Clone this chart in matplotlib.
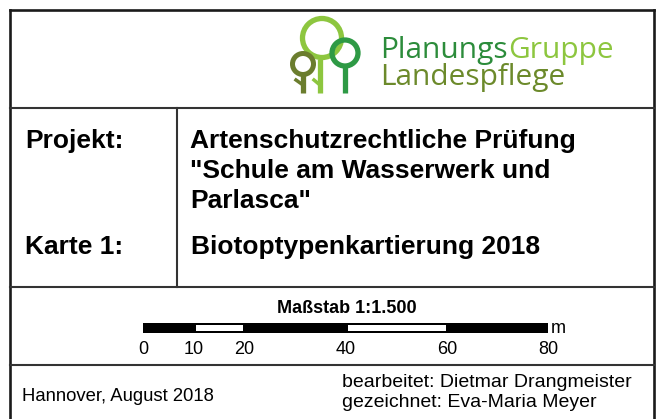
import numpy as np
import matplotlib
matplotlib.use("Agg")
import matplotlib.pyplot as plt
from matplotlib.patches import Rectangle, Circle

# ---- content ----
project_label = "Projekt:"
project_lines = ["Artenschutzrechtliche Prüfung",
                 "\"Schule am Wasserwerk und",
                 "Parlasca\""]
map_label = "Karte 1:"
map_title = "Biotoptypenkartierung 2018"
scale_title = "Maßstab 1:1.500"
scale_ticks = [0, 10, 20, 40, 60, 80]          # metres
scale_white = [(10, 20), (40, 60)]             # white segments
scale_unit = "m"
place_date = "Hannover, August 2018"
credits = ["bearbeitet: Dietmar Drangmeister", "gezeichnet: Eva-Maria Meyer"]
logo_words = ["Planungs", "Gruppe", "Landespflege"]

# ---- colours ----
c_line = "#1a1a1a"
c_lgreen = "#8dc63f"
c_green = "#2e9a45"
c_olive = "#6b7d2e"
c_text_dark = "#2c8c3b"
c_text_olive = "#6c8a2b"

W, H = 662, 419
fig = plt.figure(figsize=(W / 100, H / 100), dpi=100)
ax = fig.add_axes([0, 0, 1, 1])
ax.set_xlim(0, W)
ax.set_ylim(H, 0)
ax.axis("off")

sans = "Liberation Sans"

# frame
lw_out = 1.9
ax.plot([10, 10], [10, H + 5], color=c_line, lw=lw_out, solid_capstyle="projecting")
ax.plot([654, 654], [10, H + 5], color=c_line, lw=lw_out, solid_capstyle="projecting")
ax.plot([10, 654], [10, 10], color=c_line, lw=lw_out, solid_capstyle="projecting")
for yy in [108, 287, 365]:
    ax.plot([10, 654], [yy, yy], color="#333333", lw=1.5)
ax.plot([177, 177], [108, 287], color="#333333", lw=1.5)

# ---- logo ----
def ring(x, y, r, col, w):
    ax.add_patch(Circle((x, y), r, fill=False, ec=col, lw=w))

# trunks
ax.plot([320, 320], [59, 93], color=c_lgreen, lw=3.8, solid_capstyle="butt")
ax.plot([314, 320], [80, 85], color=c_lgreen, lw=2.5)
ax.plot([303, 303], [74, 93], color=c_olive, lw=3.8, solid_capstyle="butt")
ax.plot([296, 303], [80, 85], color=c_olive, lw=2.5)
ax.plot([345, 345], [66, 93], color=c_green, lw=3.8, solid_capstyle="butt")
ring(322, 38, 19.5, c_lgreen, 3.8)
ring(303, 64, 10.5, c_olive, 3.6)
ring(345, 53, 13, c_green, 3.8)

logo_fs = 21.5
t1 = ax.text(380, 58, logo_words[0], color=c_text_dark, fontsize=logo_fs,
             family="Open Sans", va="baseline", ha="left")
ax.annotate(logo_words[1], xy=(1, 0), xycoords=t1, color=c_lgreen,
            fontsize=logo_fs, family="Open Sans", va="bottom", ha="left")
ax.text(380, 85, logo_words[2], color=c_text_olive, fontsize=logo_fs,
        family="Open Sans", va="baseline", ha="left")

# ---- project block ----
bold = dict(family=sans, fontweight="bold", color="black", fontsize=19,
            va="baseline", ha="left")
ax.text(25, 148, project_label, **bold)
for i, s in enumerate(project_lines):
    ax.text(190, 148 + i * 30, s, **bold)
ax.text(25, 254, map_label, **bold)
ax.text(191, 254, map_title, **bold)

# ---- scale bar ----
x0, x1 = 143, 548
px_per_m = (x1 - x0) / scale_ticks[-1]
ax.text(347, 313, scale_title, family=sans, fontweight="bold",
        fontsize=13, ha="center", va="baseline")
ax.add_patch(Rectangle((x0, 323), x1 - x0, 10, fc="black", ec="none"))
for a, b in scale_white:
    ax.add_patch(Rectangle((x0 + a * px_per_m + 2, 325), (b - a) * px_per_m - 3, 6,
                           fc="white", ec="none"))
for t in scale_ticks:
    ax.text(x0 + t * px_per_m, 354, str(t), family=sans, fontsize=13,
            ha="center", va="baseline")
ax.text(551, 333, scale_unit, family=sans, fontsize=13, ha="left", va="baseline")

# ---- footer ----
ax.text(22, 401, place_date, family=sans, fontsize=13.3, ha="left", va="baseline")
for i, s in enumerate(credits):
    ax.text(342, 387 + i * 20, s, family=sans, fontsize=14, ha="left", va="baseline")

fig.savefig("out.png", dpi=100, facecolor="white")
